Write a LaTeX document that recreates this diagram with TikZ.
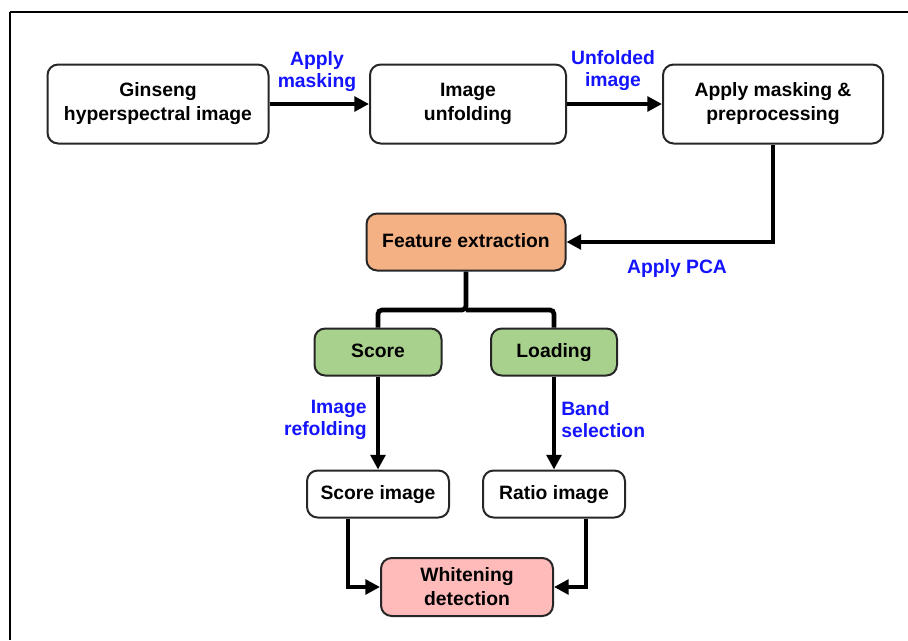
\documentclass[tikz,border=0pt]{standalone}
\usepackage{fontspec}
\setmainfont{Liberation Sans}
\usepackage{tikz}
\usetikzlibrary{arrows.meta}
\definecolor{featorange}{HTML}{F4B183}
\definecolor{leafgreen}{HTML}{A9D18E}
\definecolor{whitepink}{HTML}{FFBABA}
\definecolor{labelblue}{HTML}{1414FF}
\tikzset{procbox/.style={draw=black!85, line width=1.5pt, rounded corners=8pt,
  inner sep=0pt, align=center, font=\fontsize{14.5}{18}\selectfont\bfseries},
  oneline/.style={text height=10.5pt, text depth=3pt},
  conn/.style={line width=3.5pt, -{Triangle[length=11pt,width=11pt]}},
  branch/.style={line width=3.5pt, rounded corners=3pt},
  steplabel/.style={text=labelblue, inner sep=0pt, font=\fontsize{14.5}{16.5}\selectfont\bfseries}}

\begin{document}
\begin{tikzpicture}[x=0.75pt,y=-0.75pt]
      \useasboundingbox (0,0) rectangle (908,640);
      \draw [line width=1.5pt] (10,12) -- (908,12);
      \draw [line width=1.5pt] (10,12) -- (10,640);

      % top row
      \node [procbox, minimum width=165.75pt, minimum height=59.25pt] (ginseng) at (158,104) {Ginseng\\hyperspectral image};
      \node [procbox, minimum width=147pt, minimum height=59.25pt] (unfold) at (468,104) {Image\\unfolding};
      \node [procbox, minimum width=165pt, minimum height=59.25pt] (prep) at (773,104) {Apply masking \&\\preprocessing};

      % PCA and its two outputs
      \node [procbox, oneline, fill=featorange, minimum width=149.25pt, minimum height=42.75pt] (feat) at (466,242) {Feature extraction};
      \node [procbox, oneline, fill=leafgreen, minimum width=95.25pt, minimum height=35.25pt] (score) at (378,352) {Score};
      \node [procbox, oneline, fill=leafgreen, minimum width=94.5pt, minimum height=35.25pt] (load) at (554,352) {Loading};
      \coordinate (split) at (466,310);

      % images and detection
      \node [procbox, oneline, minimum width=106.5pt, minimum height=35.25pt] (scoreimg) at (378,494) {Score image};
      \node [procbox, oneline, minimum width=106.5pt, minimum height=35.25pt] (ratioimg) at (554,494) {Ratio image};
      \node [procbox, fill=whitepink, minimum width=129pt, minimum height=43.5pt] (white) at (467,587) {Whitening\\detection};

      \draw [conn] (ginseng) -- (unfold);
      \draw [conn] (unfold) -- (prep);
      \draw [conn] (prep.south) |- (feat.east);
      \draw [branch] (feat.south) -- (split) -| (score.north);
      \draw [branch] (split) -| (load.north);
      \draw [conn] (score) -- (scoreimg);
      \draw [conn] (load) -- (ratioimg);
      \draw [conn] ([xshift=-22.5pt]scoreimg.south) |- (white.west);
      \draw [conn] ([xshift=24pt]ratioimg.south) |- (white.east);

      \node [steplabel, align=center] (maskl) at (317,72) {Apply\\masking};
      \node [steplabel, align=center] (unfl) at (613,71) {Unfolded\\image};
      \node [steplabel] (pcal) at (677,268) {Apply PCA};
      \node [steplabel, align=right, anchor=east] (refl) at (367,420) {Image\\refolding};
      \node [steplabel, align=left, anchor=west] (bandl) at (561,420) {Band\\selection};
    \end{tikzpicture}
\end{document}
